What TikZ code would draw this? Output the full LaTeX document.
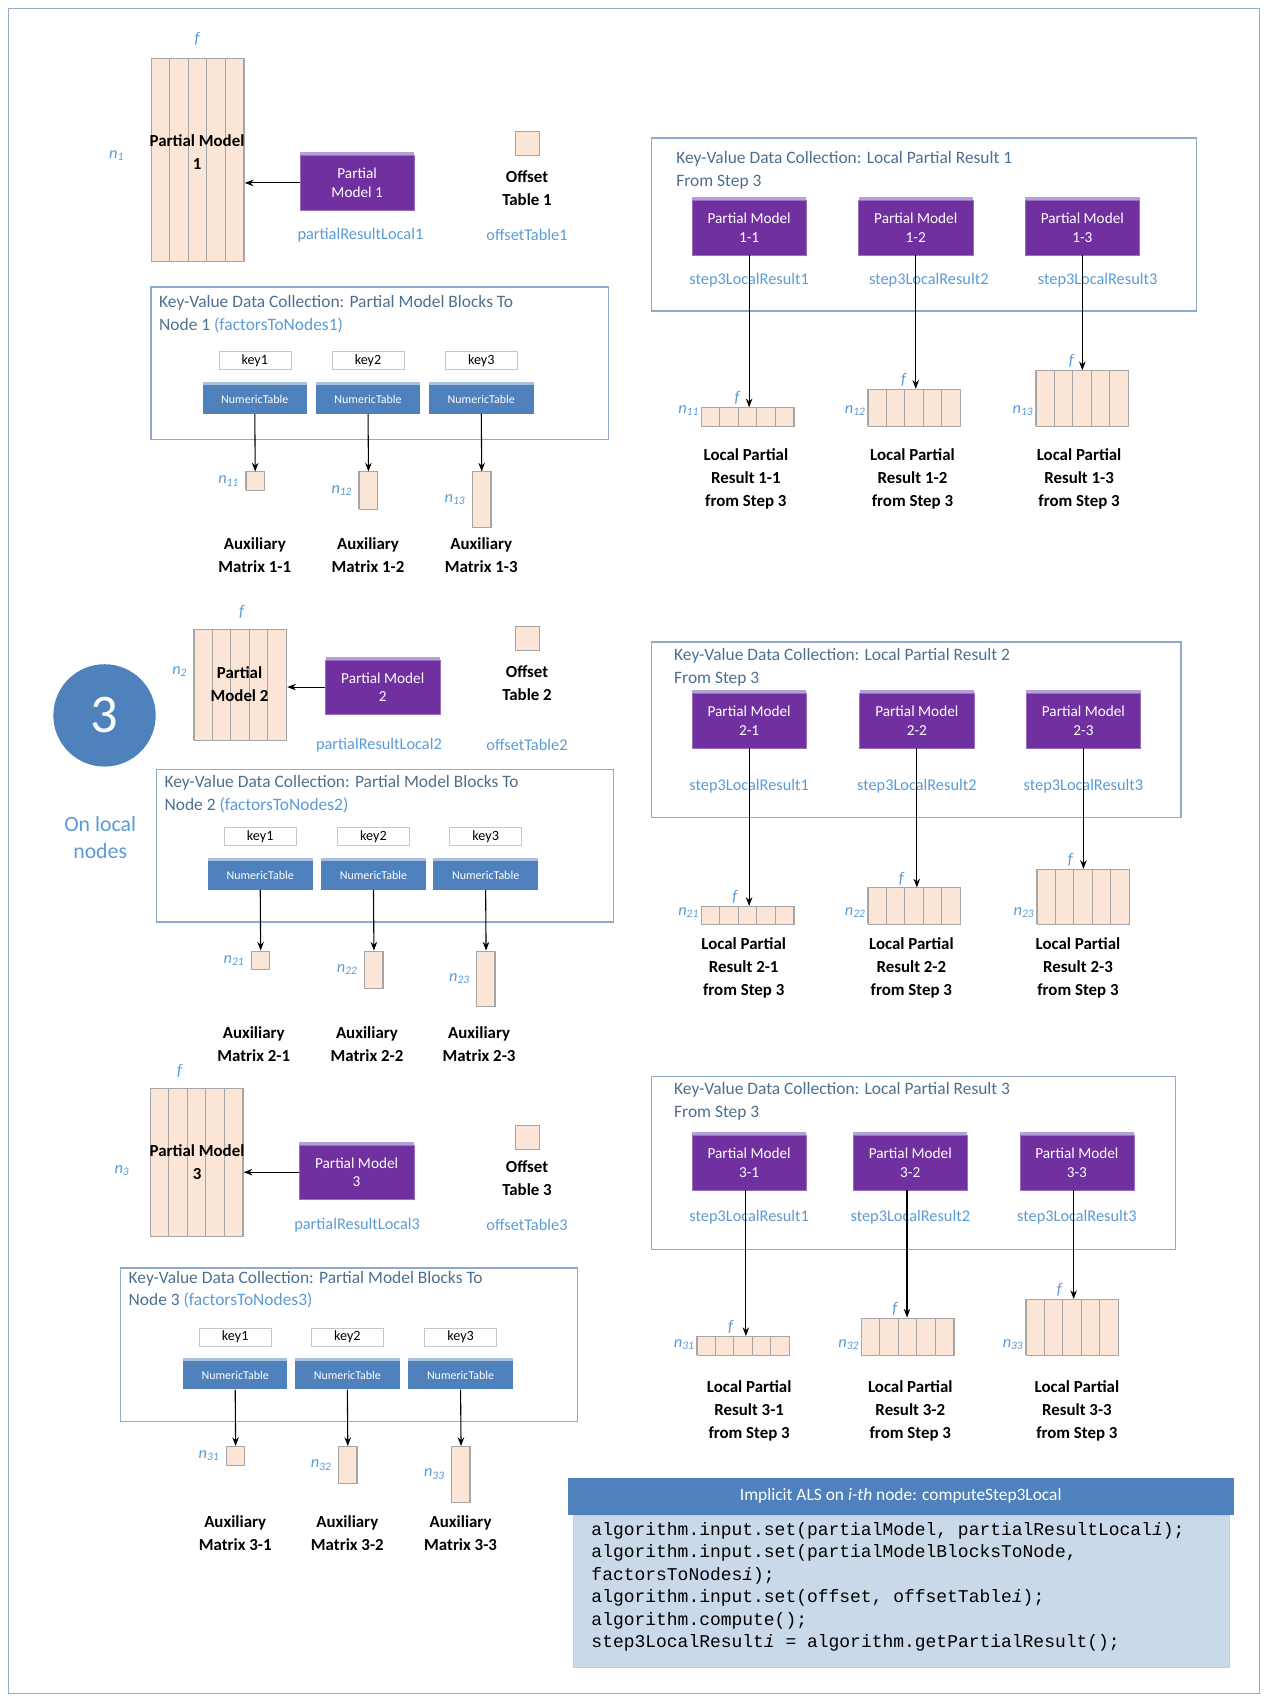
\documentclass[tikz,border=0pt]{standalone}
\usepackage{fontspec}
\setmainfont{Carlito}
\setmonofont{Liberation Mono}
\usetikzlibrary{arrows.meta, shapes, positioning, calc, shadows}

\definecolor{pmpurple}{HTML}{7030A0}
\definecolor{pmtab}{HTML}{B4A0D8}
\definecolor{ntblue}{HTML}{4F81BD}
\definecolor{nttab}{HTML}{A7C0DE}
\definecolor{kvedge}{HTML}{8FAACC}
\definecolor{kvtext}{HTML}{4D6F8F}
\definecolor{lblue}{HTML}{5B9BD5}
\definecolor{cellfill}{HTML}{FBE5D6}
\definecolor{gridgray}{HTML}{A6A6A6}
\definecolor{codebg}{HTML}{C9D9EA}

% grid of cells: name, left, top, cols, rows
\newcommand\cellgrid[5]{%
  \node[cellbox, minimum width=#4*17pt, minimum height=#5*17pt, anchor=north west] (#1) at (#2,#3) {};
  \draw[gridgray, line width=0.8pt, shift={(#1.north west)}] (0,0) grid[step=17] (#4*17,#5*17);
}

\tikzset{
  cellbox/.style={rectangle, draw=gridgray, fill=cellfill, line width=0.8pt, inner sep=0pt},
  pmodel/.style={rectangle, fill=pmpurple, draw=pmpurple!70!white, text=white, align=center, font=\fontsize{14}{17}\selectfont, minimum width=105pt, minimum height=50pt, copy shadow={shadow xshift=0pt, shadow yshift=3pt, fill=pmtab, draw=none}},
  ntable/.style={rectangle, fill=ntblue, text=white, font=\fontsize{11}{13}\selectfont, minimum width=96pt, minimum height=26pt, copy shadow={shadow xshift=0pt, shadow yshift=3pt, fill=nttab, draw=none}},
  keybox/.style={rectangle, draw=gray!45, fill=white, font=\fontsize{13}{15}\selectfont, minimum width=66pt, minimum height=16pt, inner sep=0pt},
  kvframe/.style={rectangle, draw=kvedge, line width=1.2pt, anchor=north west},
  kvtitle/.style={anchor=north west, text=kvtext, font=\fontsize{16}{21}\selectfont, align=left, inner sep=0pt},
  varlbl/.style={text=lblue, font=\fontsize{15}{18}\selectfont},
  dimlbl/.style={text=lblue, font=\itshape\fontsize{15}{18}\selectfont, inner sep=1pt},
  boldcap/.style={font=\bfseries\fontsize{15.5}{21}\selectfont, align=center},
  arr/.style={-{Stealth[length=8pt,width=6pt]}, line width=1pt}
}

\begin{document}
\begin{tikzpicture}[x=1pt, y=-1pt]
\useasboundingbox (0,0) rectangle (1165,1564);
\draw[kvedge, line width=1.2pt] (8,8) rectangle (1157,1555);

% --- Node 1: local inputs ---
\node[dimlbl] (f1) at (181,36) {f};
\cellgrid{pm1grid}{139}{53}{5}{11}
\node[boldcap] (pm1cap) at (181,140) {Partial Model\\1};
\node[dimlbl] (n1) at (107,143) {n\textsubscript{1}};
\node[pmodel] (pm1) at (328,168) {Partial\\Model 1};
\draw[arr] (pm1.west) -- (pm1.west -| pm1grid.east);
\node[varlbl] (prl1) at (331,216) {partialResultLocal1};
\node[cellbox, minimum size=22pt] (off1) at (484,132) {};
\node[boldcap] (off1cap) at (484,173) {Offset\\Table 1};
\node[varlbl] (offl1) at (484,216) {offsetTable1};

\node[kvframe, minimum width=420pt, minimum height=140pt] (kv1) at (138,263) {};
\node[kvtitle] (kv1title) at (146,271) {Key-Value Data Collection: Partial Model Blocks To\\Node 1 {\color{lblue}(factorsToNodes1)}};
\foreach \k/\x in {1/234, 2/338, 3/442} {
  \node[keybox] (key1\k) at (\x,331) {key\k};
  \node[ntable] (nt1\k) at (\x,367) {NumericTable};
  \cellgrid{aux1\k}{\x-8.5}{433}{1}{\k}
  \draw[arr] (nt1\k.south) -- (aux1\k.north);
  \node[dimlbl, left=5pt of aux1\k] (n1\k) {n\textsubscript{1\k}};
  \node[boldcap] (aux1\k cap) at (\x,510) {Auxiliary\\Matrix 1-\k};
}

% --- Node 1: step 3 results ---
\node[kvframe, minimum width=500pt, minimum height=159pt] (kvr1) at (598,126) {};
\node[kvtitle] (kvr1title) at (621,139) {Key-Value Data Collection: Local Partial Result 1\\From Step 3};
\foreach \k/\x/\s/\l in {1/688/688/644, 2/841/853/797, 3/994/1008/951} {
  \node[pmodel] (pmr1\k) at (\x,209) {Partial Model\\1-\k};
  \node[varlbl] (s3r1\k) at (\s,257) {step3LocalResult\k};
  \cellgrid{res1\k}{\l}{391-17*\k}{5}{\k}
  \draw[arr] (pmr1\k.south) -- (pmr1\k.south |- res1\k.north);
  \node[dimlbl, above=1pt of res1\k.north, xshift=-10pt] (fr1\k) {f};
  \node[dimlbl, anchor=east] (nr1\k) at ($(res1\k.south west)+(-1,-15)$) {n\textsubscript{1\k}};
  \node[boldcap] (res1\k cap) at (\x-3,440) {Local Partial\\Result 1-\k\\from Step 3};
}

% --- Node 2: local inputs ---
\node[circle, fill=ntblue, minimum size=94pt, text=white, font=\fontsize{50}{50}\selectfont] (step) at (96,657) {3};
\node[text=lblue, align=center, font=\fontsize{20}{25}\selectfont] (onlocal) at (92,769) {On local\\nodes};

\node[dimlbl] (f2) at (222,562) {f};
\cellgrid{pm2grid}{178}{578}{5}{6}
\node[boldcap] (pm2cap) at (220,628) {Partial\\Model 2};
\node[dimlbl] (n2) at (165,617) {n\textsubscript{2}};
\node[pmodel] (pm2) at (351.5,631) {Partial Model\\2};
\draw[arr] (pm2.west) -- (pm2.west -| pm2grid.east);
\node[varlbl] (prl2) at (348,684) {partialResultLocal2};
\node[cellbox, minimum size=22pt] (off2) at (484,586) {};
\node[boldcap] (off2cap) at (484,627) {Offset\\Table 2};
\node[varlbl] (offl2) at (484,684) {offsetTable2};

\node[kvframe, minimum width=420pt, minimum height=140pt] (kv2) at (143,706) {};
\node[kvtitle] (kv2title) at (151,712) {Key-Value Data Collection: Partial Model Blocks To\\Node 2 {\color{lblue}(factorsToNodes2)}};
\foreach \k/\x in {1/239, 2/343, 3/446} {
  \node[keybox] (key2\k) at (\x,768) {key\k};
  \node[ntable] (nt2\k) at (\x,804) {NumericTable};
  \cellgrid{aux2\k}{\x-8.5}{873}{1}{\k}
  \draw[arr] (nt2\k.south) -- (aux2\k.north);
  \node[dimlbl, left=5pt of aux2\k] (n2\k) {n\textsubscript{2\k}};
  \node[boldcap] (aux2\k cap) at (\x-6,959) {Auxiliary\\Matrix 2-\k};
}

% --- Node 2: step 3 results ---
\node[kvframe, minimum width=486pt, minimum height=161pt] (kvr2) at (598,589) {};
\node[kvtitle] (kvr2title) at (619,595) {Key-Value Data Collection: Local Partial Result 2\\From Step 3};
\foreach \k/\x/\l in {1/688/644, 2/842/797, 3/995/952} {
  \node[pmodel] (pmr2\k) at (\x,662) {Partial Model\\2-\k};
  \node[varlbl] (s3r2\k) at (\x,722) {step3LocalResult\k};
  \cellgrid{res2\k}{\l}{849-17*\k}{5}{\k}
  \draw[arr] (pmr2\k.south) -- (pmr2\k.south |- res2\k.north);
  \node[dimlbl, above=1pt of res2\k.north, xshift=-12pt] (fr2\k) {f};
  \node[dimlbl, anchor=east] (nr2\k) at ($(res2\k.south west)+(-1,-12)$) {n\textsubscript{2\k}};
  \node[boldcap] (res2\k cap) at (\x-5,889) {Local Partial\\Result 2-\k\\from Step 3};
}

% --- Node 3: local inputs ---
\node[dimlbl] (f3) at (165,983) {f};
\cellgrid{pm3grid}{138}{999}{5}{8}
\node[boldcap] (pm3cap) at (181,1067) {Partial Model\\3};
\node[dimlbl] (n3) at (112,1075) {n\textsubscript{3}};
\node[pmodel] (pm3) at (327.5,1076.5) {Partial Model\\3};
\draw[arr] (pm3.west) -- (pm3.west -| pm3grid.east);
\node[varlbl] (prl3) at (328,1125) {partialResultLocal3};
\node[cellbox, minimum size=22pt] (off3) at (484,1045) {};
\node[boldcap] (off3cap) at (484,1082) {Offset\\Table 3};
\node[varlbl] (offl3) at (484,1125) {offsetTable3};

\node[kvframe, minimum width=420pt, minimum height=141pt] (kv3) at (110,1164) {};
\node[kvtitle] (kv3title) at (118,1167) {Key-Value Data Collection: Partial Model Blocks To\\Node 3 {\color{lblue}(factorsToNodes3)}};
\foreach \k/\x in {1/216, 2/319, 3/423} {
  \node[keybox] (key3\k) at (\x,1228) {key\k};
  \node[ntable] (nt3\k) at (\x,1263) {NumericTable};
  \cellgrid{aux3\k}{\x-8.5}{1328}{1}{\k}
  \draw[arr] (nt3\k.south) -- (aux3\k.north);
  \node[dimlbl, left=5pt of aux3\k] (n3\k) {n\textsubscript{3\k}};
  \node[boldcap] (aux3\k cap) at (\x,1408) {Auxiliary\\Matrix 3-\k};
}

% --- Node 3: step 3 results ---
\node[kvframe, minimum width=481pt, minimum height=159pt] (kvr3) at (598,988) {};
\node[kvtitle] (kvr3title) at (619,994) {Key-Value Data Collection: Local Partial Result 3\\From Step 3};
\foreach \k/\x/\l in {1/688/640, 2/836/791, 3/989/942} {
  \node[pmodel] (pmr3\k) at (\x,1068) {Partial Model\\3-\k};
  \node[varlbl] (s3r3\k) at (\x,1118) {step3LocalResult\k};
  \cellgrid{res3\k}{\l}{1244-17*\k}{5}{\k}
  \draw[arr] ($(pmr3\k.south)+(-3,0)$) -- ($(pmr3\k.south |- res3\k.north)+(-3,0)$);
  \node[dimlbl, above=1pt of res3\k.north, xshift=-12pt] (fr3\k) {f};
  \node[dimlbl, anchor=east] (nr3\k) at ($(res3\k.south west)+(-1,-10)$) {n\textsubscript{3\k}};
  \node[boldcap] (res3\k cap) at (\x,1296) {Local Partial\\Result 3-\k\\from Step 3};
}

% --- code panel ---
\node[rectangle, fill=codebg, draw=kvedge!60, anchor=north west, minimum width=603pt, minimum height=140pt] (codebody) at (526,1391) {};
\node[rectangle, fill=ntblue, text=white, anchor=north west, minimum width=612pt, minimum height=34pt, font=\fontsize{16}{19}\selectfont] (codehead) at (521,1357) {Implicit ALS on \textit{i-th} node: computeStep3Local};
\node[anchor=north west, align=left, inner sep=0pt, font=\ttfamily\fontsize{16.5}{20.6}\selectfont] (code) at (543,1398) {%
algorithm.input.set(partialModel, partialResultLocal\textit{i});\\
algorithm.input.set(partialModelBlocksToNode,\\
factorsToNodes\textit{i});\\
algorithm.input.set(offset, offsetTable\textit{i});\\
algorithm.compute();\\
step3LocalResult\textit{i} = algorithm.getPartialResult();};
\end{tikzpicture}
\end{document}
